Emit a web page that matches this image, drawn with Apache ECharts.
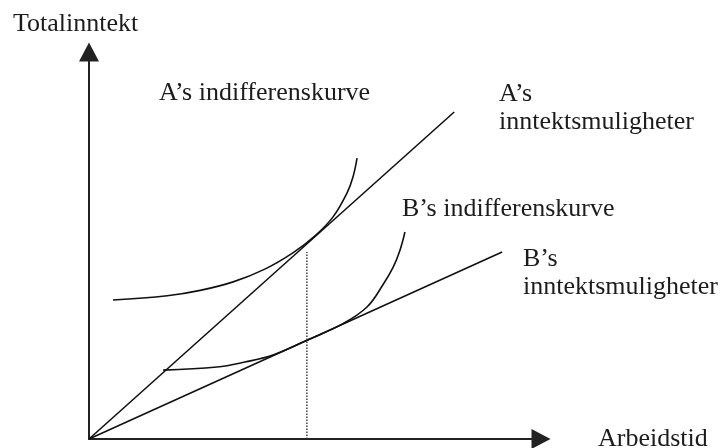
<!DOCTYPE html>
<html>
<head>
<meta charset="utf-8">
<script src="https://cdn.jsdelivr.net/npm/echarts@6/dist/echarts.min.js"></script>
<style>
  html, body { margin: 0; padding: 0; background: #fff; }
  #chart { width: 725px; height: 448px; }
</style>
</head>
<body>
<div id="chart"></div>
<script>
// budget lines from the origin (x = arbeidstid, y = totalinntekt)
const incomeA = [[0, 0], [8.08, 8.45]];
const incomeB = [[0, 0], [9.14, 4.83]];

// indifference curves
const indiffA = [
  [0.53, 3.59], [1.73, 3.70], [2.46, 3.84], [3.19, 4.06], [3.89, 4.39],
  [4.51, 4.81], [5.00, 5.25], [5.40, 5.74], [5.71, 6.36], [5.84, 6.77], [5.93, 7.26]
];
const indiffB = [
  [1.64, 1.78], [2.83, 1.86], [3.45, 1.99], [4.07, 2.17], [4.82, 2.55],
  [5.62, 2.98], [6.15, 3.41], [6.50, 3.98], [6.73, 4.44], [6.88, 4.88], [6.99, 5.35]
];

// chosen working hours (dotted line)
const hours = [[4.82, 0], [4.82, 4.83]];

const labels = {
  yName: 'Totalinntekt',
  xName: 'Arbeidstid',
  curveA: 'A\u2019s indifferenskurve',
  lineA: 'A\u2019s\ninntektsmuligheter',
  curveB: 'B\u2019s indifferenskurve',
  lineB: 'B\u2019s\ninntektsmuligheter'
};

const chart = echarts.init(document.getElementById('chart'));

const font = { fontFamily: '"Liberation Serif", "Times New Roman", serif', fontSize: 26, fill: '#1c1c1c' };
const axisStyle = { color: '#222', width: 2 };

// x = left edge, base = baseline of the first line (graphic "top" is the box top)
function text(str, x, base) {
  return {
    type: 'text', left: x, top: base - 20,
    style: Object.assign({ text: str, lineHeight: 28 }, font)
  };
}

function line(data, extra) {
  return Object.assign({
    type: 'line', data: data, symbol: 'none', silent: true,
    lineStyle: { color: '#111', width: 1.6 }
  }, extra || {});
}

chart.setOption({
  animation: false,
  grid: { left: 89, right: 184, top: 52, bottom: 9, outerBoundsMode: 'none' },
  xAxis: {
    type: 'value', min: 0, max: 10,
    axisLine: { lineStyle: axisStyle, symbol: ['none', 'triangle'], symbolSize: [20, 19] },
    axisTick: { show: false }, axisLabel: { show: false }, splitLine: { show: false }
  },
  yAxis: {
    type: 'value', min: 0, max: 10,
    axisLine: { show: true, lineStyle: axisStyle, symbol: ['none', 'triangle'], symbolSize: [20, 19] },
    axisTick: { show: false }, axisLabel: { show: false }, splitLine: { show: false }
  },
  series: [
    line(incomeA),
    line(incomeB),
    line(indiffA, { smooth: 0.4 }),
    line(indiffB, { smooth: 0.4 }),
    line(hours, { lineStyle: { color: '#333', width: 1.4, type: [1.5, 1.5] } })
  ],
  graphic: [
    text(labels.yName, 13, 30),
    text(labels.curveA, 159, 99),
    text(labels.lineA, 499, 100),
    text(labels.curveB, 402, 215),
    text(labels.lineB, 523, 265),
    text(labels.xName, 598, 445)
  ]
});
</script>
</body>
</html>
